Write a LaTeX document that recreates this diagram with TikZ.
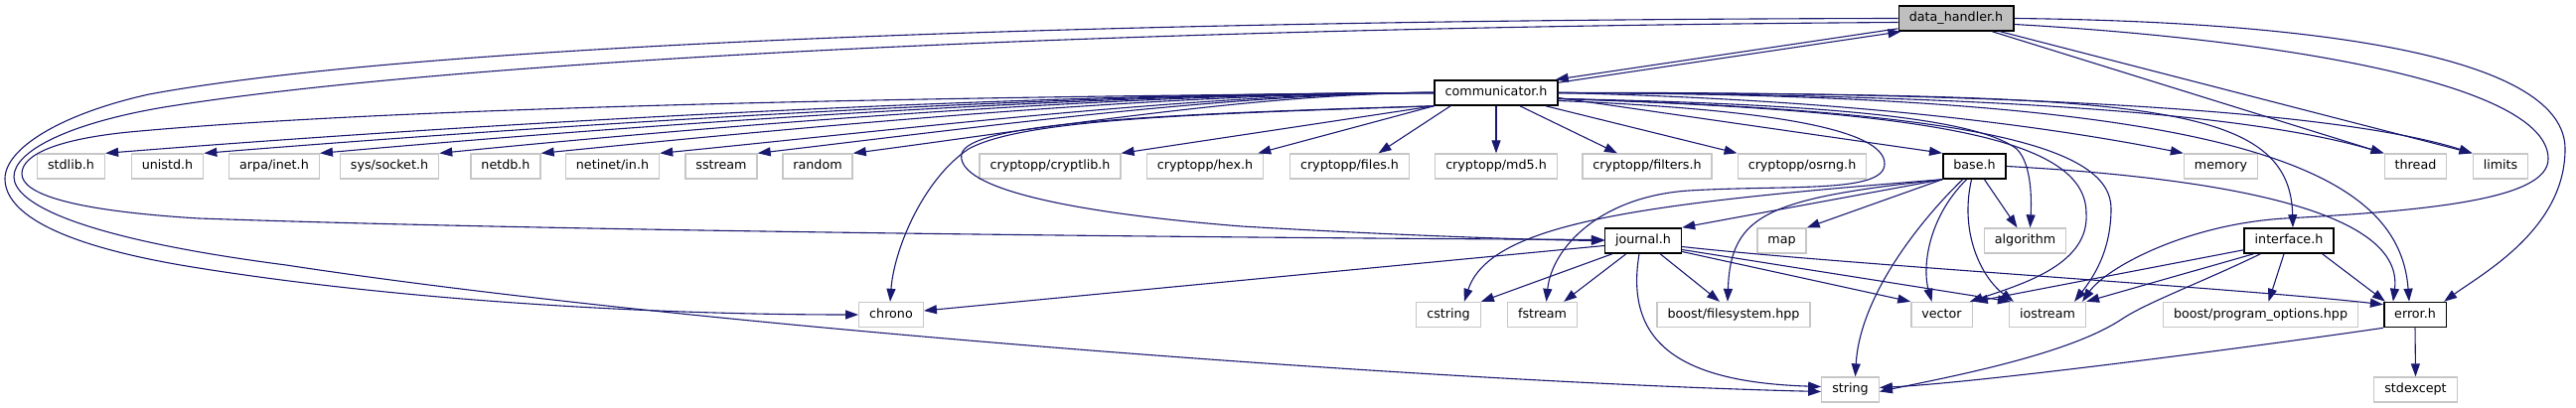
\documentclass[tikz,border=0pt]{standalone}
\usepackage{fontspec}
\setmainfont{DejaVu Sans}
\usetikzlibrary{arrows.meta}
\definecolor{edgeblue}{HTML}{191970}
\tikzset{>={Triangle[length=13pt,width=9pt]}}
\tikzset{
  hdr/.style={draw=black!22, line width=1.3pt, fill=white, minimum height=25pt, inner xsep=10.5pt, inner ysep=0pt, text height=9.5pt, text depth=2.7pt, font=\fontsize{12.7}{15}\selectfont},
  own/.style={hdr, draw=black, line width=1.6pt},
  root/.style={own, fill=black!25},
  inc/.style={->, color=edgeblue, line width=1.1pt}
}

\begin{document}
\begin{tikzpicture}[x=1pt,y=-1pt]
\useasboundingbox (0,0) rectangle (2593,411);
\node[root] (dh) at (1969,18.5) {data\_handler.h};
\node[own] (comm) at (1506,93.5) {communicator.h};
\node[hdr] (stdlib) at (71.5,167.5) {stdlib.h};
\node[hdr] (unistd) at (168.5,167.5) {unistd.h};
\node[hdr] (arpa) at (276,167.5) {arpa/inet.h};
\node[hdr] (socket) at (392,167.5) {sys/socket.h};
\node[hdr] (netdb) at (509,167.5) {netdb.h};
\node[hdr] (netin) at (616.5,167.5) {netinet/in.h};
\node[hdr] (sstream) at (726,167.5) {sstream};
\node[hdr] (random) at (823,167.5) {random};
\node[hdr] (cryptlib) at (1057,167.5) {cryptopp/cryptlib.h};
\node[hdr] (hex) at (1213,167.5) {cryptopp/hex.h};
\node[hdr] (files) at (1358.5,167.5) {cryptopp/files.h};
\node[hdr] (md5) at (1506,167.5) {cryptopp/md5.h};
\node[hdr] (filters) at (1658,167.5) {cryptopp/filters.h};
\node[hdr] (osrng) at (1814,167.5) {cryptopp/osrng.h};
\node[own] (base) at (1987.5,167.5) {base.h};
\node[hdr] (memory) at (2235.5,167.5) {memory};
\node[hdr] (thread) at (2431.5,167.5) {thread};
\node[hdr] (limits) at (2517,167.5) {limits};
\node[own] (journal) at (1654,242.5) {journal.h};
\node[hdr] (map) at (1793.5,242.5) {map};
\node[hdr] (algorithm) at (2038.5,242.5) {algorithm};
\node[own] (interface) at (2304,242.5) {interface.h};
\node[hdr] (chrono) at (897,317) {chrono};
\node[hdr] (cstring) at (1458,317) {cstring};
\node[hdr] (fstream) at (1552.5,317) {fstream};
\node[hdr] (bfs) at (1745,317) {boost/filesystem.hpp};
\node[hdr] (vector) at (1954.5,317) {vector};
\node[hdr] (iostream) at (2061,317) {iostream};
\node[hdr] (bpo) at (2275.5,317) {boost/program\_options.hpp};
\node[own] (error) at (2431,317) {error.h};
\node[hdr] (string) at (1862.5,392.5) {string};
\node[hdr] (stdexcept) at (2431.5,392.5) {stdexcept};

\draw[inc] ([yshift=3pt]dh.south west) -- ([xshift=-3pt]comm.north east);
\draw[inc] ([yshift=-3pt]comm.north east) -- ([xshift=3pt]dh.south west);
\draw[inc] (dh.west) .. controls (1100,20) and (420,45) .. (150,95) .. controls (60,115) and (5,150) .. (5,180) .. controls (5,215) and (60,248) .. (200,270) .. controls (400,302) and (650,317) .. (chrono.west);
\draw[inc] ([yshift=-4pt]dh.west) .. controls (1100,28) and (450,62) .. (165,108) .. controls (70,124) and (14,152) .. (14,178) .. controls (14,205) and (80,240) .. (288,267) .. controls (700,330) and (1450,385) .. ([yshift=-2pt]string.west);
\draw[inc] ([xshift=-22pt]dh.south east) -- (thread.north west);
\draw[inc] ([xshift=-14pt]dh.south east) -- (limits.north west);
\draw[inc] (dh.east) .. controls (2350,22) and (2582,60) .. (2582,150) .. controls (2582,230) and (2500,275) .. ([xshift=-3pt]error.north east);
\draw[inc] ([yshift=-6pt]dh.east) .. controls (2300,40) and (2565,85) .. (2565,160) .. controls (2565,200) and (2450,212) .. (2300,220) .. controls (2200,226) and (2120,270) .. ([xshift=-4pt]iostream.north east);

\foreach \n/\d/\h in {stdlib/401/32, unistd/371/30, arpa/336/30, socket/302/30, netdb/270/27, netin/233/23, sstream/204/24, random/175/23}
  \draw[inc] (comm.west) .. controls +(-\d,0) and +(\d,-\h) .. (\n.north east);
\draw[inc] (comm.south west) -- (cryptlib.north east);
\draw[inc] (comm.south west) -- ([xshift=-6pt]hex.north east);
\draw[inc] ([xshift=-46pt]comm.south) -- ([xshift=29pt]files.north);
\draw[inc] (comm.south) -- (md5.north);
\draw[inc] ([xshift=24pt]comm.south) -- ([xshift=-30pt]filters.north);
\draw[inc] ([xshift=50pt]comm.south) -- (osrng.north west);
\draw[inc] ([yshift=-5pt]comm.east) -- (base.north west);
\draw[inc] (comm.east) .. controls (1850,100) and (2050,125) .. (memory.north west);
\draw[inc] (comm.east) .. controls (1950,95) and (2250,110) .. (thread.north west);
\draw[inc] (comm.east) .. controls (2000,92) and (2350,110) .. (limits.north west);
\draw[inc] (comm.east) .. controls (2150,95) and (2305,100) .. ([xshift=4pt]interface.north);
\draw[inc] (comm.east) .. controls (2250,95) and (2415,170) .. ([xshift=-6pt]error.north);
\draw[inc] ([yshift=-6pt]comm.east) .. controls (1850,105) and (1990,120) .. (2030,150) .. controls (2045,165) and (2045,200) .. ([xshift=5pt]algorithm.north);
\draw[inc] ([yshift=-6pt]comm.east) .. controls (1950,112) and (2100,140) .. (2100,215) .. controls (2103,265) and (2040,285) .. ([xshift=-3pt]vector.north east);
\draw[inc] ([yshift=-6pt]comm.east) .. controls (2000,112) and (2125,150) .. (2125,210) .. controls (2125,255) and (2105,282) .. ([xshift=-12pt]iostream.north east);
\draw[inc] ([yshift=-8pt]comm.east) .. controls (1780,110) and (1897,130) .. (1897,165) .. controls (1897,195) and (1800,186) .. (1700,192) .. controls (1610,198) and (1562,250) .. ([xshift=4pt]fstream.north);
\draw[inc] (comm.west) .. controls (1000,97) and (420,106) .. (130,133) .. controls (60,140) and (22,155) .. (22,175) .. controls (22,195) and (70,212) .. (200,220) .. controls (600,234) and (1300,240) .. ([yshift=1pt]journal.west);
\draw[inc] (comm.south west) .. controls (1150,115) and (975,125) .. (968,155) .. controls (962,185) and (1050,212) .. (1250,228) .. controls (1420,238) and (1560,242) .. (journal.west);
\draw[inc] (comm.south west) .. controls (1200,115) and (1030,120) .. (975,150) .. controls (930,180) and (900,250) .. ([xshift=-1pt]chrono.north);

\draw[inc] (base.south west) -- (journal.north east);
\draw[inc] (base.south west) -- (map.north east);
\draw[inc] (base.south west) .. controls (1780,200) and (1742,215) .. ([xshift=-6pt]bfs.north);
\draw[inc] (base.south west) .. controls (1650,205) and (1500,225) .. ([xshift=-17pt]cstring.north east);
\draw[inc] ([xshift=10pt]base.south) -- ([xshift=-8pt]algorithm.north);
\draw[inc] ([xshift=-12pt]base.south) .. controls (1930,225) and (1872,300) .. ([xshift=5pt]string.north);
\draw[inc] ([xshift=-8pt]base.south) .. controls (1940,220) and (1935,270) .. ([xshift=-10pt]vector.north);
\draw[inc] ([xshift=-3pt]base.south) .. controls (1972,235) and (1995,280) .. ([xshift=5pt]iostream.north west);
\draw[inc] (base.east) .. controls (2250,180) and (2420,215) .. ([xshift=10pt]error.north west);

\draw[inc] ([yshift=-5pt]journal.west) -- ([yshift=4pt]chrono.east);
\draw[inc] ([xshift=8pt]journal.south west) -- (cstring.north east);
\draw[inc] ([xshift=22pt]journal.south west) -- ([xshift=-14pt]fstream.north east);
\draw[inc] ([xshift=-22pt]journal.south east) -- ([xshift=-14pt]bfs.north);
\draw[inc] ([xshift=-4pt]journal.south) .. controls (1635,345) and (1690,385) .. ([yshift=3pt]string.west);
\draw[inc] ([yshift=-11pt]journal.east) -- (vector.north west);
\draw[inc] ([yshift=-9pt]journal.east) -- ([xshift=2pt]iostream.north west);
\draw[inc] ([yshift=-6pt]journal.east) .. controls (1850,266) and (2250,290) .. ([yshift=-3pt]error.north west);

\draw[inc] ([yshift=4pt]interface.south west) -- ([xshift=2pt]vector.north east);
\draw[inc] ([xshift=10pt]interface.south west) -- (iostream.north east);
\draw[inc] ([xshift=17pt]interface.south west) .. controls (2215,285) and (2160,305) .. (2135,322) .. controls (2080,358) and (1960,380) .. ([yshift=-2pt]string.east);
\draw[inc] ([xshift=-5pt]interface.south) -- ([xshift=8pt]bpo.north);
\draw[inc] ([xshift=-12pt]interface.south east) -- ([xshift=2pt]error.north west);

\draw[inc] (error.south west) .. controls (2300,345) and (2000,385) .. ([yshift=2pt]string.east);
\draw[inc] (error.south) -- (stdexcept.north);
\end{tikzpicture}
\end{document}
